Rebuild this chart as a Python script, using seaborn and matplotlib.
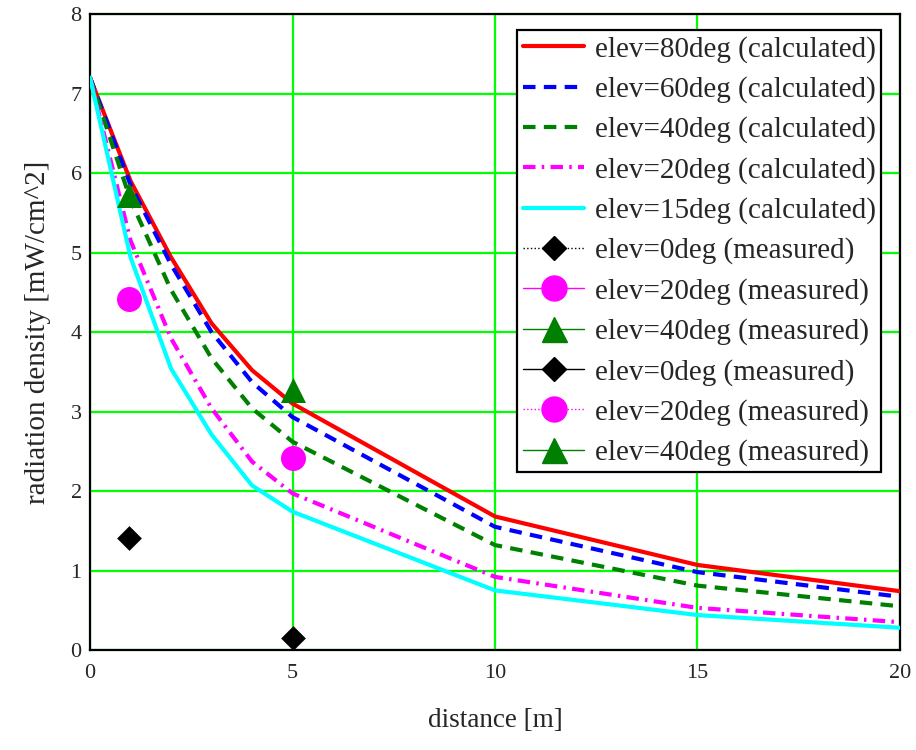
import numpy as np
import pandas as pd
import seaborn as sns
import matplotlib.pyplot as plt
from matplotlib.lines import Line2D

# --- datos ---
dist_calc = [0, 1, 2, 3, 4, 5, 10, 15, 20]
elev80 = [7.2, 5.9, 4.94, 4.11, 3.52, 3.1, 1.68, 1.07, 0.74]
elev60 = [7.2, 5.85, 4.85, 4.0, 3.37, 2.93, 1.55, 0.98, 0.67]
elev40 = [7.2, 5.66, 4.53, 3.67, 3.04, 2.62, 1.32, 0.81, 0.55]
elev20 = [7.2, 5.15, 3.92, 3.04, 2.37, 1.97, 0.92, 0.53, 0.35]
elev15 = [7.2, 4.94, 3.54, 2.71, 2.07, 1.74, 0.75, 0.44, 0.28]

meas_dist = [0.95, 5]
meas_0 = [1.41, 0.15]
meas_20 = [4.41, 2.41]
meas_40 = [5.72, 3.27]

calc_labels = ['elev=80deg (calculated)', 'elev=60deg (calculated)',
               'elev=40deg (calculated)', 'elev=20deg (calculated)',
               'elev=15deg (calculated)']
calc_series = [elev80, elev60, elev40, elev20, elev15]
calc_colors = ['#ff0000', '#0000ff', '#008000', '#ff00ff', '#00ffff']
calc_dashes = ['-', (0, (3, 2)), (0, (3, 2)), (0, (3, 1.5, 0.6, 1.5)), '-']

sns.set_style('white')
plt.rcParams['font.family'] = ['Liberation Serif', 'DejaVu Serif']

fig = plt.figure(figsize=(9.16, 7.5), dpi=100)
ax = fig.add_axes([0.0983, 0.1333, 0.8842, 0.848])

# curvas calculadas
for lab, ys, col, ls in zip(calc_labels, calc_series, calc_colors, calc_dashes):
    df = pd.DataFrame({'dist': dist_calc, 'dens': ys})
    sns.lineplot(data=df, x='dist', y='dens', ax=ax, color=col,
                 linewidth=3, linestyle=ls, zorder=3)

# puntos medidos
meas = [(meas_0, 'D', 'black', 17 ** 2 * 0.55),
        (meas_20, 'o', '#ff00ff', 18 ** 2),
        (meas_40, '^', '#008000', 18 ** 2)]
for ys, mk, col, s in meas:
    df = pd.DataFrame({'dist': meas_dist, 'dens': ys})
    sns.scatterplot(data=df, x='dist', y='dens', ax=ax, marker=mk,
                    color=col, s=s, edgecolor=col, linewidth=0, zorder=4)

ax.set_xlim(0, 20)
ax.set_ylim(0, 8)
ax.set_xticks([0, 5, 10, 15, 20])
ax.set_yticks(range(0, 9))
ax.grid(True, color='#00ff00', linewidth=1.6)
ax.set_axisbelow(True)
for sp in ax.spines.values():
    sp.set_color('black')
    sp.set_linewidth(1.6)
ax.tick_params(length=0, labelsize=16)
ax.tick_params(axis='x', pad=10)
ax.tick_params(axis='y', pad=6)
ax.set_xlabel('distance [m]', fontsize=19.5, labelpad=18)
ax.set_ylabel('radiation density [mW/cm^2]', fontsize=21, labelpad=14)

# leyenda
handles = []
for lab, col, ls in zip(calc_labels, calc_colors, calc_dashes):
    handles.append(Line2D([], [], color=col, linewidth=3, linestyle=ls, label=lab))
meas_leg = [('elev=0deg (measured)', 'D', 'black', ':', 12),
            ('elev=20deg (measured)', 'o', '#ff00ff', '-', 18),
            ('elev=40deg (measured)', '^', '#008000', '-', 18),
            ('elev=0deg (measured)', 'D', 'black', '-', 12),
            ('elev=20deg (measured)', 'o', '#ff00ff', ':', 18),
            ('elev=40deg (measured)', '^', '#008000', '-', 18)]
for lab, mk, col, ls, ms in meas_leg:
    handles.append(Line2D([], [], color=col, linewidth=1, linestyle=ls,
                          marker=mk, markersize=ms, label=lab))

leg = ax.legend(handles=handles, loc='upper right', bbox_to_anchor=(0.977, 0.975),
                borderaxespad=0, fontsize=21, frameon=True, fancybox=False,
                framealpha=1, edgecolor='black', handlelength=2.1,
                handletextpad=0.35, labelspacing=0.46, borderpad=0.2,
                numpoints=1)
leg.get_frame().set_linewidth(1.6)
leg.set_zorder(5)

fig.savefig('out.png', dpi=100)
